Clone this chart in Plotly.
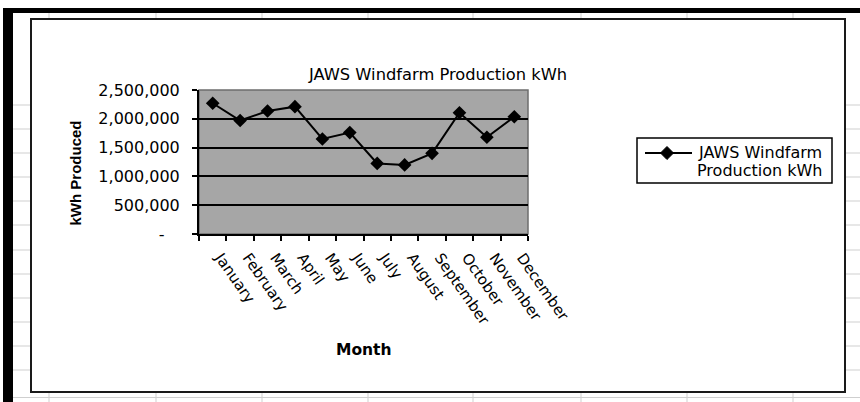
import plotly.graph_objects as go

# Monthly energy output of the JAWS windfarm
months = ["January", "February", "March", "April", "May", "June", "July",
          "August", "September", "October", "November", "December"]
production_kwh = [2270000, 1970000, 2135000, 2210000, 1650000, 1760000,
                  1225000, 1200000, 1400000, 2105000, 1680000, 2035000]
y_tick_values = [0, 500000, 1000000, 1500000, 2000000, 2500000]
y_tick_labels = ["-\u00a0\u00a0\u00a0", "500,000", "1,000,000", "1,500,000",
                 "2,000,000", "2,500,000"]
series_name = ["JAWS Windfarm", "Production kWh"]

W, H = 860, 402
PL, PR, PT, PB = 199, 528, 90, 234   # plot-area edges in pixels


def px_x(px):
    return (px - PL) / (PR - PL)


def px_y(py):
    return (PB - py) / (PB - PT)


fig = go.Figure()
fig.add_trace(go.Scatter(
    x=months, y=production_kwh, mode="lines+markers",
    name=" ".join(series_name), showlegend=False,
    line=dict(color="black", width=2),
    marker=dict(symbol="diamond", size=10.5, color="black"),
))

shapes = []
grid_col = "#cfcfcf"
# worksheet cell lines around the embedded chart
rows_y = [105, 129, 153, 177, 201, 225, 250, 274, 298, 322, 346, 370]
cols_x = [49, 156, 262, 368, 473, 581, 687, 793]
for ry in rows_y:
    for x0, x1 in ((13, 31), (845, 860)):
        shapes.append(dict(type="line", xref="paper", yref="paper",
                           x0=px_x(x0), x1=px_x(x1), y0=px_y(ry), y1=px_y(ry),
                           line=dict(color=grid_col, width=1), layer="below"))
for cx in cols_x:
    for y0, y1 in ((13, 19), (392, 402)):
        shapes.append(dict(type="line", xref="paper", yref="paper",
                           x0=px_x(cx), x1=px_x(cx), y0=px_y(y0), y1=px_y(y1),
                           line=dict(color=grid_col, width=1), layer="below"))
shapes.append(dict(type="line", xref="paper", yref="paper",
                   x0=px_x(13), x1=px_x(860), y0=px_y(397.5), y1=px_y(397.5),
                   line=dict(color=grid_col, width=1), layer="below"))
# heavy window frame on top and left
shapes.append(dict(type="rect", xref="paper", yref="paper",
                   x0=px_x(3), x1=px_x(860), y0=px_y(8), y1=px_y(13),
                   fillcolor="black", line=dict(width=0), layer="below"))
shapes.append(dict(type="rect", xref="paper", yref="paper",
                   x0=px_x(3), x1=px_x(13), y0=px_y(8), y1=px_y(402),
                   fillcolor="black", line=dict(width=0), layer="below"))
# chart-area outline
shapes.append(dict(type="rect", xref="paper", yref="paper",
                   x0=px_x(31), x1=px_x(845), y0=px_y(19), y1=px_y(392),
                   line=dict(color="#1a1a1a", width=2), layer="below"))
# plot-area outline
shapes.append(dict(type="rect", xref="paper", yref="paper",
                   x0=0, x1=1, y0=0, y1=1,
                   line=dict(color="#6e6e6e", width=1.5), layer="below"))

# legend box with line-and-diamond key
LG_L, LG_R, LG_T, LG_B = 637, 832, 138, 183
KEY_Y, KEY_X = 153, 667
shapes.append(dict(type="rect", xref="paper", yref="paper",
                   x0=px_x(LG_L), x1=px_x(LG_R), y0=px_y(LG_T), y1=px_y(LG_B),
                   fillcolor="white", line=dict(color="black", width=1.5),
                   layer="above"))
shapes.append(dict(type="line", xref="paper", yref="paper",
                   x0=px_x(645), x1=px_x(692), y0=px_y(KEY_Y), y1=px_y(KEY_Y),
                   line=dict(color="black", width=2), layer="above"))
diamond = [(KEY_X, KEY_Y - 6.5), (KEY_X + 6.5, KEY_Y),
           (KEY_X, KEY_Y + 6.5), (KEY_X - 6.5, KEY_Y)]
path = "M " + " L ".join(f"{px_x(a):.5f},{px_y(b):.5f}" for a, b in diamond) + " Z"
shapes.append(dict(type="path", xref="paper", yref="paper", path=path,
                   fillcolor="black", line=dict(color="black", width=1),
                   layer="above"))

annotations = [
    dict(text="JAWS Windfarm Production kWh", xref="paper", yref="paper",
         x=px_x(437), y=px_y(74), xanchor="center", yanchor="middle",
         showarrow=False, font=dict(family="DejaVu Sans", size=16.3, color="black")),
    dict(text="<b>kWh Produced</b>", xref="paper", yref="paper",
         x=px_x(74.5), y=px_y(173), xanchor="center", yanchor="middle",
         textangle=-90, showarrow=False,
         font=dict(family="Liberation Sans", size=15, color="black")),
    dict(text="<b>Month</b>", xref="paper", yref="paper",
         x=px_x(364), y=px_y(350), xanchor="center", yanchor="middle",
         showarrow=False, font=dict(family="DejaVu Sans", size=15.5, color="black")),
]
for line_text, mid_y in zip(series_name, (152, 170)):
    annotations.append(dict(
        text=line_text, xref="paper", yref="paper",
        x=px_x(824), y=px_y(mid_y), xanchor="right", yanchor="middle",
        showarrow=False, font=dict(family="DejaVu Sans", size=16, color="black")))

fig.update_layout(
    width=W, height=H,
    margin=dict(l=PL, r=W - PR, t=PT, b=H - PB, pad=0, autoexpand=False),
    paper_bgcolor="white", plot_bgcolor="#a6a6a6",
    font=dict(family="DejaVu Sans", color="black"),
    showlegend=False,
    shapes=shapes,
    annotations=annotations,
)
fig.update_xaxes(
    type="category", categoryorder="array", categoryarray=months,
    range=[-0.5, 11.5], tickson="boundaries",
    ticks="outside", ticklen=5, tickwidth=2, tickcolor="black",
    showline=True, linecolor="black", linewidth=2,
    tickangle=55, tickfont=dict(family="DejaVu Sans", size=15, color="black"),
    ticklabelshift=8, ticklabelstandoff=7,
    showgrid=False, zeroline=False,
)
fig.update_yaxes(
    range=[0, 2500000], tickmode="array",
    tickvals=y_tick_values, ticktext=y_tick_labels,
    ticks="outside", ticklen=5, tickwidth=2, tickcolor="black",
    showline=True, linecolor="black", linewidth=2,
    showgrid=True, gridcolor="black", gridwidth=2, zeroline=False,
    tickfont=dict(family="DejaVu Sans", size=16, color="black"),
    ticklabelstandoff=9,
)

fig.write_html("out.html")
